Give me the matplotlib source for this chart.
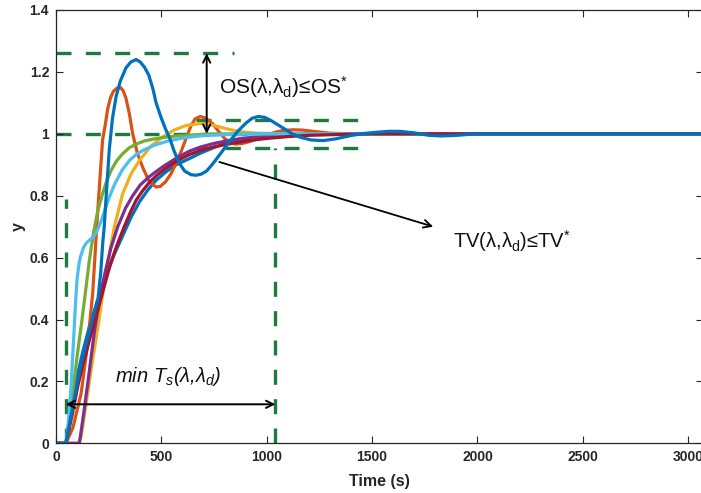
import matplotlib
matplotlib.use("Agg")
import matplotlib.pyplot as plt

plt.rcParams['font.family'] = ['Liberation Sans', 'DejaVu Sans']
plt.rcParams['mathtext.fontset'] = 'custom'
plt.rcParams['mathtext.rm'] = 'Liberation Sans'
plt.rcParams['mathtext.it'] = 'Liberation Sans:italic'
plt.rcParams['mathtext.bf'] = 'Liberation Sans:bold'

# ---- data (time in s, output y) ----
t_blue_slow = [0, 47, 70, 95, 125, 158, 197, 237, 276, 316, 356, 396, 435, 475, 520, 570, 633, 684, 740, 791,
               850, 900, 1000, 1100, 1200, 1300, 3100]
y_blue_slow = [0, 0, 0.11, 0.20, 0.29, 0.376, 0.46, 0.54, 0.61, 0.67, 0.73, 0.78, 0.818, 0.85, 0.876, 0.90, 0.92, 0.937, 0.953, 0.966,
               0.976, 0.982, 0.99, 0.995, 0.998, 1.0, 1.0]

t_orange = [0, 47, 80, 119, 150, 174, 198, 221, 234, 245, 258, 272, 290, 305, 318, 332, 348, 364, 385, 411, 443, 475,
            495, 520, 545, 570, 595, 620, 640, 660, 684, 705, 725, 744, 775, 800, 825, 850, 880, 920, 960, 1000,
            1040, 1080, 1127, 1170, 1220, 1300, 1400, 3100]
y_orange = [0, 0, 0.05, 0.16, 0.32, 0.484, 0.75, 0.98, 1.03, 1.08, 1.115, 1.137, 1.148, 1.15, 1.14, 1.115, 1.065, 1.0, 0.94, 0.892, 0.845, 0.828,
            0.83, 0.845, 0.87, 0.905, 0.945, 0.99, 1.025, 1.048, 1.056, 1.052, 1.043, 1.032, 1.005, 0.985, 0.972, 0.967, 0.968, 0.975, 0.985, 0.996,
            1.005, 1.011, 1.013, 1.012, 1.008, 1.002, 1.0, 1.0]

t_yellow = [0, 105, 119, 150, 174, 200, 222, 250, 277, 316, 356, 396, 450, 506, 560, 617, 684, 712, 760, 800, 842, 900, 950, 1100, 3100]
y_yellow = [0, 0, 0.02, 0.16, 0.27, 0.38, 0.484, 0.60, 0.70, 0.806, 0.87, 0.914, 0.96, 0.99, 1.012, 1.027, 1.033, 1.032, 1.025, 1.018, 1.011, 1.005, 1.002, 1.0, 1.0]

t_purple = [0, 111, 130, 150, 182, 205, 229, 260, 293, 330, 364, 400, 440, 475, 510, 540, 580, 633, 690, 750, 810,
            870, 935, 1000, 1100, 1200, 1350, 3100]
y_purple = [0, 0, 0.09, 0.19, 0.36, 0.46, 0.54, 0.63, 0.70, 0.76, 0.80, 0.835, 0.86, 0.878, 0.895, 0.908, 0.925, 0.944, 0.958, 0.969, 0.977,
            0.984, 0.989, 0.992, 0.996, 0.998, 1.0, 1.0]

t_green = [0, 47, 65, 80, 100, 119, 140, 158, 178, 198, 218, 237, 260, 285, 315, 348, 385, 420, 470, 520, 570, 617, 712, 850, 3100]
y_green = [0, 0, 0.08, 0.17, 0.28, 0.376, 0.49, 0.59, 0.68, 0.75, 0.80, 0.84, 0.88, 0.91, 0.935, 0.955, 0.968, 0.977, 0.984, 0.989, 0.993, 0.995, 0.999, 1.0, 1.0]

t_lightblue = [0, 47, 55, 62, 71, 79, 87, 94, 100, 108, 115, 130, 145, 160, 177, 190, 200, 213, 225, 250, 280, 316,
               350, 380, 411, 470, 538, 617, 700, 791, 900, 1000, 3100]
y_lightblue = [0, 0, 0.04, 0.10, 0.18, 0.28, 0.38, 0.47, 0.53, 0.575, 0.60, 0.632, 0.648, 0.657, 0.667, 0.68, 0.695, 0.716, 0.74, 0.79, 0.84, 0.885,
               0.915, 0.933, 0.946, 0.964, 0.978, 0.988, 0.994, 0.997, 0.999, 1.0, 1.0]

t_darkred = [0, 47, 60, 79, 105, 134, 165, 198, 230, 261, 292, 324, 352, 380, 410, 443, 480, 520, 575, 633, 690,
             750, 810, 870, 935, 1000, 1100, 1200, 1350, 1500, 3100]
y_darkred = [0, 0, 0.04, 0.10, 0.19, 0.27, 0.35, 0.43, 0.51, 0.585, 0.645, 0.70, 0.745, 0.785, 0.815, 0.843, 0.867, 0.888, 0.913, 0.933, 0.947,
             0.958, 0.966, 0.973, 0.98, 0.985, 0.991, 0.995, 0.998, 1.0, 1.0]

t_blue_os = [0, 47, 80, 120, 160, 200, 212, 222, 229, 240, 253, 268, 285, 305, 332, 355, 380, 400, 420, 440, 460, 475,
             500, 520, 540, 560, 585, 610, 640, 665, 690, 715, 744, 785, 823, 865, 902, 930, 960, 990, 1020, 1079,
             1120, 1158, 1210, 1269, 1330, 1396, 1460, 1522, 1580, 1630, 1700, 1770, 1830, 1900, 2000, 3100]
y_blue_os = [0, 0, 0.12, 0.26, 0.37, 0.47, 0.55, 0.65, 0.70, 0.82, 0.95, 1.05, 1.12, 1.17, 1.213, 1.232, 1.24, 1.232, 1.215, 1.19, 1.145, 1.10,
             1.05, 1.015, 0.985, 0.945, 0.905, 0.88, 0.868, 0.866, 0.87, 0.88, 0.903, 0.94, 0.975, 1.01, 1.035, 1.05, 1.056, 1.053, 1.043, 1.018,
             1.0, 0.989, 0.98, 0.978, 0.984, 0.994, 1.001, 1.005, 1.008, 1.008, 1.003, 0.995, 0.993, 0.995, 1.0, 1.0]

series = [(t_blue_slow, y_blue_slow), (t_orange, y_orange), (t_yellow, y_yellow), (t_purple, y_purple),
          (t_green, y_green), (t_lightblue, y_lightblue), (t_darkred, y_darkred), (t_blue_os, y_blue_os)]
colors = ['#0072BD', '#D95319', '#EDB120', '#7E2F8E', '#77AC30', '#4DBEEE', '#A2142F', '#0072BD']

# constraint / annotation values
os_max = 1.26
band_hi, band_lo = 1.045, 0.955
t_delay = 46
t_settle = 1041
band_t0, band_t1 = 665, 1500
os_arrow_t = 715
ts_arrow_y = 0.126

xticks = [0, 500, 1000, 1500, 2000, 2500, 3000]
yticks = [0, 0.2, 0.4, 0.6, 0.8, 1.0, 1.2, 1.4]
ytick_labels = ['0', '0.2', '0.4', '0.6', '0.8', '1', '1.2', '1.4']

fig = plt.figure(figsize=(7.01, 4.93), dpi=100)
x_max = 3070
left_px, right_px, top_px, bot_px = 56, 703, 10, 443.3
ax = fig.add_axes([left_px / 701, (493 - bot_px) / 493, (right_px - left_px) / 701, (bot_px - top_px) / 493])

green = '#1e7a3e'
dash = dict(color=green, lw=2.4, dashes=(4.5, 4.3), zorder=1)
ax.plot([0, 845], [os_max, os_max], **dash)
ax.plot([0, t_settle], [1.0, 1.0], **dash)
ax.plot([band_t0, band_t1], [band_hi, band_hi], **dash)
ax.plot([band_t0, band_t1], [band_lo, band_lo], **dash)
ax.plot([t_delay, t_delay], [0, 0.79], **dash)
ax.plot([t_settle, t_settle], [0, band_lo], **dash)

for (tt, yy), c in zip(series, colors):
    ax.plot(tt, yy, color=c, lw=2.3, zorder=2, solid_joinstyle='round')

arr = dict(arrowstyle='<->', lw=1.4, color='k', mutation_scale=13, shrinkA=0, shrinkB=0)
ax.annotate('', xy=(os_arrow_t, 1.0), xytext=(os_arrow_t, os_max), arrowprops=arr, zorder=5)
ax.annotate('', xy=(t_delay, ts_arrow_y), xytext=(t_settle, ts_arrow_y), arrowprops=arr, zorder=5)
ax.annotate('', xy=(1790, 0.70), xytext=(775, 0.909),
            arrowprops=dict(arrowstyle='->', lw=1.3, color='k', mutation_scale=14, shrinkA=0, shrinkB=0), zorder=5)

ax.text(774, 1.15, 'OS(λ,λ$_\\mathrm{d}$)≤OS$^{*}$', fontsize=15, va='center', ha='left', color='#111111')
ax.text(1882, 0.655, 'TV(λ,λ$_\\mathrm{d}$)≤TV$^{*}$', fontsize=14.5, va='center', ha='left', color='#111111')
ax.text(280, 0.215, 'min T$_s$(λ,λ$_d$)', fontsize=14.5, style='italic', va='center', ha='left', color='#111111')

ax.set_xlim(0, x_max)
ax.set_ylim(0, 1.4)
ax.set_xticks(xticks)
ax.set_xticklabels([str(v) for v in xticks])
ax.set_yticks(yticks)
ax.set_yticklabels(ytick_labels)
ax.tick_params(direction='in', length=4.7, width=0.8, colors='#262626', labelsize=10,
               top=True, right=True, pad=5)
for lab in ax.get_xticklabels() + ax.get_yticklabels():
    lab.set_fontweight('bold')
for s in ax.spines.values():
    s.set_color('#262626')
    s.set_linewidth(0.9)
ax.set_xlabel('Time (s)', fontsize=11.5, fontweight='bold', color='#262626', labelpad=7)
ax.set_ylabel('y', fontsize=11.5, fontweight='bold', color='#262626', labelpad=3)

fig.savefig('out.png', dpi=100)
